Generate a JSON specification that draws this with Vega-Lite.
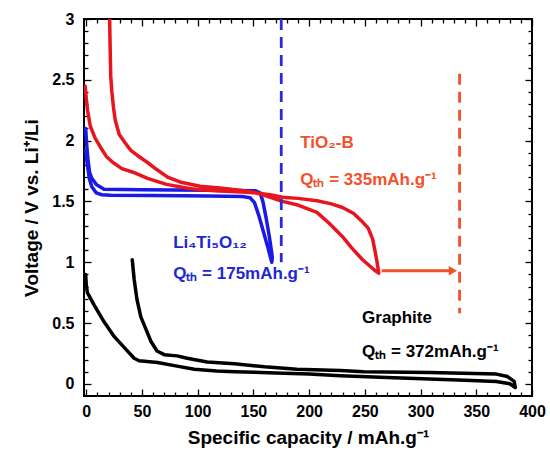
{
  "$schema": "https://vega.github.io/schema/vega-lite/v6.json",
  "width": 448,
  "height": 377,
  "autosize": "none",
  "padding": {"left": 84, "top": 19, "right": 18, "bottom": 59},
  "config": {
    "view": {"stroke": "black", "strokeWidth": 2},
    "font": "Liberation Sans"
  },
  "datasets": {
    "curves": [
      {"s": "graphite", "o": 1, "x": -0.5, "y": 0.9},
      {"s": "graphite", "o": 2, "x": 0, "y": 0.82},
      {"s": "graphite", "o": 3, "x": 1, "y": 0.75},
      {"s": "graphite", "o": 4, "x": 7, "y": 0.65},
      {"s": "graphite", "o": 5, "x": 16, "y": 0.51},
      {"s": "graphite", "o": 6, "x": 25, "y": 0.39},
      {"s": "graphite", "o": 7, "x": 34, "y": 0.3},
      {"s": "graphite", "o": 8, "x": 43, "y": 0.21},
      {"s": "graphite", "o": 9, "x": 47.5, "y": 0.19},
      {"s": "graphite", "o": 10, "x": 64, "y": 0.175},
      {"s": "graphite", "o": 11, "x": 79, "y": 0.15},
      {"s": "graphite", "o": 12, "x": 97, "y": 0.12},
      {"s": "graphite", "o": 13, "x": 117, "y": 0.105},
      {"s": "graphite", "o": 14, "x": 133, "y": 0.1},
      {"s": "graphite", "o": 15, "x": 170, "y": 0.09},
      {"s": "graphite", "o": 16, "x": 200, "y": 0.08},
      {"s": "graphite", "o": 17, "x": 228, "y": 0.066},
      {"s": "graphite", "o": 18, "x": 270, "y": 0.052},
      {"s": "graphite", "o": 19, "x": 308, "y": 0.04},
      {"s": "graphite", "o": 20, "x": 340, "y": 0.03},
      {"s": "graphite", "o": 21, "x": 368, "y": 0.02},
      {"s": "graphite", "o": 22, "x": 380, "y": 0.0},
      {"s": "graphite", "o": 23, "x": 385, "y": -0.03},
      {"s": "graphite", "o": 24, "x": 384, "y": 0.02},
      {"s": "graphite", "o": 25, "x": 378, "y": 0.06},
      {"s": "graphite", "o": 26, "x": 368, "y": 0.08},
      {"s": "graphite", "o": 27, "x": 308, "y": 0.093},
      {"s": "graphite", "o": 28, "x": 249, "y": 0.1},
      {"s": "graphite", "o": 29, "x": 228, "y": 0.11},
      {"s": "graphite", "o": 30, "x": 189, "y": 0.12},
      {"s": "graphite", "o": 31, "x": 160, "y": 0.14},
      {"s": "graphite", "o": 32, "x": 133, "y": 0.165},
      {"s": "graphite", "o": 33, "x": 108.5, "y": 0.18},
      {"s": "graphite", "o": 34, "x": 90.6, "y": 0.21},
      {"s": "graphite", "o": 35, "x": 81.6, "y": 0.23},
      {"s": "graphite", "o": 36, "x": 70, "y": 0.24},
      {"s": "graphite", "o": 37, "x": 63.5, "y": 0.27},
      {"s": "graphite", "o": 38, "x": 58, "y": 0.35},
      {"s": "graphite", "o": 39, "x": 54, "y": 0.44},
      {"s": "graphite", "o": 40, "x": 49, "y": 0.55},
      {"s": "graphite", "o": 41, "x": 45.6, "y": 0.69},
      {"s": "graphite", "o": 42, "x": 43, "y": 0.86},
      {"s": "graphite", "o": 43, "x": 41.3, "y": 1.02},

      {"s": "lto", "o": 1, "x": -0.5, "y": 1.92},
      {"s": "lto", "o": 2, "x": 1, "y": 1.8},
      {"s": "lto", "o": 3, "x": 3, "y": 1.68},
      {"s": "lto", "o": 4, "x": 5, "y": 1.62},
      {"s": "lto", "o": 5, "x": 9, "y": 1.57},
      {"s": "lto", "o": 6, "x": 14, "y": 1.555},
      {"s": "lto", "o": 7, "x": 22, "y": 1.55},
      {"s": "lto", "o": 8, "x": 60, "y": 1.548},
      {"s": "lto", "o": 9, "x": 110, "y": 1.545},
      {"s": "lto", "o": 10, "x": 140, "y": 1.54},
      {"s": "lto", "o": 11, "x": 147, "y": 1.53},
      {"s": "lto", "o": 12, "x": 151, "y": 1.49},
      {"s": "lto", "o": 13, "x": 155, "y": 1.38},
      {"s": "lto", "o": 14, "x": 159, "y": 1.25},
      {"s": "lto", "o": 15, "x": 163, "y": 1.12},
      {"s": "lto", "o": 16, "x": 166.5, "y": 1.0},
      {"s": "lto", "o": 17, "x": 167, "y": 1.04},
      {"s": "lto", "o": 18, "x": 164.5, "y": 1.2},
      {"s": "lto", "o": 19, "x": 161.5, "y": 1.36},
      {"s": "lto", "o": 20, "x": 158.5, "y": 1.5},
      {"s": "lto", "o": 21, "x": 156, "y": 1.57},
      {"s": "lto", "o": 22, "x": 152, "y": 1.588},
      {"s": "lto", "o": 23, "x": 110, "y": 1.592},
      {"s": "lto", "o": 24, "x": 50, "y": 1.595},
      {"s": "lto", "o": 25, "x": 16, "y": 1.6},
      {"s": "lto", "o": 26, "x": 9, "y": 1.64},
      {"s": "lto", "o": 27, "x": 5, "y": 1.69},
      {"s": "lto", "o": 28, "x": 3, "y": 1.74},
      {"s": "lto", "o": 29, "x": 1.5, "y": 1.85},
      {"s": "lto", "o": 30, "x": 0.3, "y": 1.98},
      {"s": "lto", "o": 31, "x": -0.5, "y": 2.1},

      {"s": "tio2", "o": 1, "x": -1, "y": 2.45},
      {"s": "tio2", "o": 2, "x": 0, "y": 2.35},
      {"s": "tio2", "o": 3, "x": 1.2, "y": 2.25},
      {"s": "tio2", "o": 4, "x": 3.6, "y": 2.12},
      {"s": "tio2", "o": 5, "x": 8, "y": 2.02},
      {"s": "tio2", "o": 6, "x": 12.5, "y": 1.95},
      {"s": "tio2", "o": 7, "x": 18, "y": 1.87},
      {"s": "tio2", "o": 8, "x": 24, "y": 1.82},
      {"s": "tio2", "o": 9, "x": 32, "y": 1.77},
      {"s": "tio2", "o": 10, "x": 42, "y": 1.74},
      {"s": "tio2", "o": 11, "x": 55, "y": 1.69},
      {"s": "tio2", "o": 12, "x": 72, "y": 1.64},
      {"s": "tio2", "o": 13, "x": 90, "y": 1.61},
      {"s": "tio2", "o": 14, "x": 102, "y": 1.595},
      {"s": "tio2", "o": 15, "x": 120, "y": 1.585},
      {"s": "tio2", "o": 16, "x": 140, "y": 1.578},
      {"s": "tio2", "o": 17, "x": 150, "y": 1.572},
      {"s": "tio2", "o": 18, "x": 165, "y": 1.555},
      {"s": "tio2", "o": 19, "x": 176, "y": 1.535},
      {"s": "tio2", "o": 20, "x": 190, "y": 1.525},
      {"s": "tio2", "o": 21, "x": 207, "y": 1.505},
      {"s": "tio2", "o": 22, "x": 220, "y": 1.48},
      {"s": "tio2", "o": 23, "x": 230, "y": 1.45},
      {"s": "tio2", "o": 24, "x": 240, "y": 1.4},
      {"s": "tio2", "o": 25, "x": 248, "y": 1.33},
      {"s": "tio2", "o": 26, "x": 253, "y": 1.28},
      {"s": "tio2", "o": 27, "x": 257, "y": 1.19},
      {"s": "tio2", "o": 28, "x": 259, "y": 1.1},
      {"s": "tio2", "o": 29, "x": 261, "y": 1.0},
      {"s": "tio2", "o": 30, "x": 262.5, "y": 0.91},
      {"s": "tio2", "o": 31, "x": 258, "y": 0.94},
      {"s": "tio2", "o": 32, "x": 248, "y": 1.02},
      {"s": "tio2", "o": 33, "x": 238, "y": 1.12},
      {"s": "tio2", "o": 34, "x": 230, "y": 1.21},
      {"s": "tio2", "o": 35, "x": 218, "y": 1.32},
      {"s": "tio2", "o": 36, "x": 207, "y": 1.41},
      {"s": "tio2", "o": 37, "x": 190, "y": 1.47},
      {"s": "tio2", "o": 38, "x": 176, "y": 1.5},
      {"s": "tio2", "o": 39, "x": 160, "y": 1.55},
      {"s": "tio2", "o": 40, "x": 150, "y": 1.575},
      {"s": "tio2", "o": 41, "x": 140, "y": 1.59},
      {"s": "tio2", "o": 42, "x": 120, "y": 1.61},
      {"s": "tio2", "o": 43, "x": 102, "y": 1.625},
      {"s": "tio2", "o": 44, "x": 84, "y": 1.66},
      {"s": "tio2", "o": 45, "x": 73, "y": 1.7},
      {"s": "tio2", "o": 46, "x": 63.6, "y": 1.76},
      {"s": "tio2", "o": 47, "x": 55, "y": 1.82},
      {"s": "tio2", "o": 48, "x": 45.6, "y": 1.88},
      {"s": "tio2", "o": 49, "x": 40, "y": 1.92},
      {"s": "tio2", "o": 50, "x": 35, "y": 1.98},
      {"s": "tio2", "o": 51, "x": 29.6, "y": 2.05},
      {"s": "tio2", "o": 52, "x": 26, "y": 2.17},
      {"s": "tio2", "o": 53, "x": 24.5, "y": 2.27},
      {"s": "tio2", "o": 54, "x": 23, "y": 2.4},
      {"s": "tio2", "o": 55, "x": 22, "y": 2.53},
      {"s": "tio2", "o": 56, "x": 21.5, "y": 2.75},
      {"s": "tio2", "o": 57, "x": 21, "y": 3.0}
    ],
    "limits": [
      {"s": "lto_q", "x": 175, "y": 3.0, "y2": 1.0},
      {"s": "tio2_q", "x": 335, "y": 2.55, "y2": 0.58}
    ],
    "arrow": [
      {"s": "tio2_q", "x": 265, "x2": 328, "y": 0.93}
    ],
    "head": [
      {"s": "tio2_q", "x": 329, "y": 0.93}
    ],
    "labels": [
      {"s": "tio2_q", "x": 192, "y": 1.98, "t": "TiO₂-B"},
      {"s": "tio2_q", "x": 192, "y": 1.68, "t": "Qₜₕ = 335mAh.g⁻¹"},
      {"s": "lto_t", "x": 78, "y": 1.16, "t": "Li₄Ti₅O₁₂"},
      {"s": "lto_t", "x": 78, "y": 0.9, "t": "Qₜₕ = 175mAh.g⁻¹"},
      {"s": "graphite", "x": 247.5, "y": 0.54, "t": "Graphite"},
      {"s": "graphite", "x": 247.5, "y": 0.26, "t": "Qₜₕ = 372mAh.g⁻¹"}
    ]
  },
  "resolve": {"axis": {"x": "independent", "y": "independent"}},
  "layer": [
    {
      "data": {"name": "curves"},
      "mark": {"type": "line", "strokeWidth": 3.5, "strokeJoin": "round", "strokeCap": "round", "clip": true},
      "encoding": {
        "x": {"field": "x", "type": "quantitative", "scale": {"domain": [-2, 400], "nice": false, "zero": false},
          "axis": {"orient": "bottom", "title": "Specific capacity / mAh.g⁻¹", "titlePadding": 6, "grid": false, "domain": false,
            "values": [0,10,20,30,40,50,60,70,80,90,100,110,120,130,140,150,160,170,180,190,200,210,220,230,240,250,260,270,280,290,300,310,320,330,340,350,360,370,380,390,400],
            "ticks": true, "tickColor": "black", "tickWidth": 1.3,
            "tickSize": {"condition": {"test": "datum.value % 50 === 0", "value": -7}, "value": -4},
            "labelPadding": 14, "labelFlush": false, "labelOverlap": false,
            "labelExpr": "datum.value % 50 === 0 ? datum.label : ''",
            "labelFont": "Liberation Sans", "labelFontWeight": "bold", "labelFontSize": 16, "labelColor": "black",
            "titleFont": "Liberation Sans", "titleFontWeight": "bold", "titleFontSize": 19, "titleColor": "black"}},
        "y": {"field": "y", "type": "quantitative", "scale": {"domain": [-0.1, 3], "nice": false, "zero": false},
          "axis": {"orient": "left", "title": "Voltage / V vs. Li⁺/Li", "titlePadding": 10, "grid": false, "domain": false,
            "values": [0,0.1,0.2,0.3,0.4,0.5,0.6,0.7,0.8,0.9,1,1.1,1.2,1.3,1.4,1.5,1.6,1.7,1.8,1.9,2,2.1,2.2,2.3,2.4,2.5,2.6,2.7,2.8,2.9,3],
            "ticks": true, "tickColor": "black", "tickWidth": 1.3,
            "tickSize": {"condition": {"test": "abs(datum.value*2 - round(datum.value*2)) < 0.001", "value": -7}, "value": -4},
            "labelPadding": 17, "labelFlush": false, "labelOverlap": false,
            "labelExpr": "abs(datum.value*2 - round(datum.value*2)) < 0.001 ? '' + datum.value : ''",
            "labelFont": "Liberation Sans", "labelFontWeight": "bold", "labelFontSize": 16, "labelColor": "black",
            "titleFont": "Liberation Sans", "titleFontWeight": "bold", "titleFontSize": 19, "titleColor": "black"}},
        "order": {"field": "o", "type": "quantitative"},
        "detail": {"field": "s"},
        "color": {"field": "s", "type": "nominal", "legend": null,
          "scale": {"domain": ["graphite", "lto", "tio2", "lto_q", "tio2_q", "lto_t"], "range": ["#000000", "#1a1ae6", "#e8141e", "#2a2ad8", "#f2502a", "#1e28d2"]}}
      }
    },
    {
      "data": {"name": "limits"},
      "mark": {"type": "rule", "strokeWidth": 2.8, "strokeDash": [11, 7]},
      "encoding": {
        "x": {"field": "x", "type": "quantitative",
          "axis": {"orient": "top", "title": null, "labels": false, "grid": false, "domain": false,
            "values": [0,10,20,30,40,50,60,70,80,90,100,110,120,130,140,150,160,170,180,190,200,210,220,230,240,250,260,270,280,290,300,310,320,330,340,350,360,370,380,390,400],
            "ticks": true, "tickColor": "black", "tickWidth": 1.3,
            "tickSize": {"condition": {"test": "datum.value % 50 === 0", "value": -7}, "value": -4}}},
        "y": {"field": "y", "type": "quantitative",
          "axis": {"orient": "right", "title": null, "labels": false, "grid": false, "domain": false,
            "values": [0,0.1,0.2,0.3,0.4,0.5,0.6,0.7,0.8,0.9,1,1.1,1.2,1.3,1.4,1.5,1.6,1.7,1.8,1.9,2,2.1,2.2,2.3,2.4,2.5,2.6,2.7,2.8,2.9,3],
            "ticks": true, "tickColor": "black", "tickWidth": 1.3,
            "tickSize": {"condition": {"test": "abs(datum.value*2 - round(datum.value*2)) < 0.001", "value": -7}, "value": -4}}},
        "y2": {"field": "y2"},
        "color": {"field": "s", "type": "nominal", "legend": null}
      }
    },
    {
      "data": {"name": "arrow"},
      "mark": {"type": "rule", "strokeWidth": 3},
      "encoding": {
        "x": {"field": "x", "type": "quantitative", "axis": null},
        "x2": {"field": "x2"},
        "y": {"field": "y", "type": "quantitative", "axis": null},
        "color": {"field": "s", "type": "nominal", "legend": null}
      }
    },
    {
      "data": {"name": "head"},
      "mark": {"type": "point", "shape": "triangle-right", "filled": true, "size": 90, "opacity": 1},
      "encoding": {
        "x": {"field": "x", "type": "quantitative", "axis": null},
        "y": {"field": "y", "type": "quantitative", "axis": null},
        "color": {"field": "s", "type": "nominal", "legend": null}
      }
    },
    {
      "data": {"name": "labels"},
      "mark": {"type": "text", "align": "left", "baseline": "middle", "fontWeight": "bold", "fontSize": 17, "font": "Liberation Sans"},
      "encoding": {
        "x": {"field": "x", "type": "quantitative", "axis": null},
        "y": {"field": "y", "type": "quantitative", "axis": null},
        "text": {"field": "t"},
        "color": {"field": "s", "type": "nominal", "legend": null}
      }
    }
  ]
}
